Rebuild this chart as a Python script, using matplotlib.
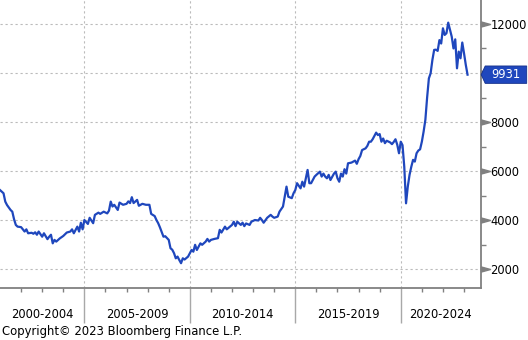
import numpy as np
import pandas as pd
import matplotlib
matplotlib.use("Agg")
import matplotlib.pyplot as plt
from matplotlib.path import Path
from matplotlib.patches import Polygon

# monthly readings (month offset from Jan 2001, value)
months = [0, 2, 3, 4, 6, 7, 8, 9, 10, 12, 14, 15, 16, 18, 19, 20, 21, 22, 24, 25,
          27, 28, 29, 30, 31, 32, 34, 36, 38, 40, 41, 42, 44, 45, 46, 47, 48, 50, 51, 53,
          54, 56, 57, 59, 61, 62, 63, 64, 65, 67, 68, 70, 72, 73, 74, 75, 76, 78, 79, 81,
          83, 85, 86, 88, 89, 90, 91, 93, 94, 96, 97, 98, 99, 100, 101, 102, 103, 104, 105, 107,
          109, 110, 111, 112, 114, 115, 117, 118, 119, 120, 122, 124, 125, 126, 128, 129, 132, 133, 134, 135,
          137, 138, 139, 140, 142, 143, 145, 147, 148, 149, 150, 152, 154, 155, 156, 158, 159, 161, 162, 163,
          164, 166, 167, 168, 169, 171, 172, 173, 175, 176, 177, 179, 180, 182, 183, 184, 185, 186, 187, 188,
          190, 191, 192, 193, 194, 195, 196, 197, 198, 200, 202, 203, 204, 205, 206, 208, 209, 210, 211, 212,
          214, 215, 216, 217, 218, 219, 220, 222, 223, 224, 225, 226, 227, 228, 229, 230, 231, 232, 233, 234,
          235, 236, 237, 238, 239, 240, 241, 242, 243, 244, 245, 246, 247, 248, 249, 250, 251, 252, 253, 254,
          255, 256, 257, 258, 259, 260, 261, 262, 263, 264, 265, 266]
values = [5230, 5100, 4760, 4620, 4420, 4350, 4040, 3810, 3740, 3720, 3540, 3630, 3470, 3490, 3450, 3510, 3410, 3540, 3330, 3470,
          3230, 3330, 3410, 3060, 3200, 3130, 3260, 3360, 3500, 3540, 3630, 3470, 3740, 3540, 3900, 3630, 4010, 3850, 4100, 3880,
          4220, 4310, 4260, 4350, 4280, 4390, 4760, 4560, 4630, 4420, 4720, 4630, 4670, 4770, 4700, 4940, 4700, 4830, 4590, 4670,
          4630, 4630, 4260, 4170, 4010, 3880, 3710, 3330, 3350, 3200, 2860, 2800, 2660, 2450, 2520, 2380, 2250, 2450, 2400, 2520,
          2790, 2720, 3000, 2790, 3060, 3000, 3130, 3240, 3130, 3200, 3240, 3270, 3610, 3500, 3740, 3630, 3810, 3940, 3760, 3940,
          3810, 3900, 3760, 3870, 3810, 3940, 4010, 3990, 4100, 4010, 3900, 4100, 4220, 4150, 4100, 4150, 4350, 4560, 4960, 5370,
          4960, 4900, 5100, 5230, 5510, 5300, 5570, 5370, 6050, 5510, 5510, 5780, 5850, 5980, 5780, 5900, 5780, 5710, 5850, 5640,
          5900, 5980, 5710, 5570, 5900, 5780, 6080, 5900, 6320, 6350, 6430, 6300, 6490, 6620, 6860, 6930, 7030, 7200, 7200, 7300,
          7570, 7470, 7510, 7200, 7330, 7140, 7240, 7170, 7100, 7190, 7300, 7080, 6730, 7200, 7060, 6180, 4690, 5370, 5850, 6180,
          6460, 6390, 6730, 6840, 6890, 7200, 7610, 8090, 9000, 9780, 9990, 10530, 10940, 10950, 10900, 11340, 11200, 11820, 11550, 11620,
          12050, 11760, 11480, 11000, 11370, 10190, 10870, 10600, 11240, 10800, 10330, 9931]

period_labels = ["2000-2004", "2005-2009", "2010-2014", "2015-2019", "2020-2024"]
y_ticks = [2000, 4000, 6000, 8000, 10000, 12000]

dates = pd.Timestamp("2001-01-01") + pd.to_timedelta(np.array(months) * 30.4375, unit="D")

blue = "#1f47bd"
grey = "#808080"

fig = plt.figure(figsize=(5.28, 3.40), dpi=100)
ax = fig.add_axes([0.0, 0.154, 0.9104, 0.846])

ax.plot(dates, values, color=blue, lw=1.6, solid_joinstyle="round")

x_left = pd.Timestamp("2001-01-01")
x_right = pd.Timestamp("2023-10-17")
ax.set_xlim(x_left, x_right)
ax.set_ylim(1255, 12973)

# grid
for yv in y_ticks:
    ax.axhline(yv, color="#bbbbbb", lw=0.8, ls=(0, (2, 2.5)), zorder=0)
bounds = [pd.Timestamp(f"{y}-01-01") for y in (2005, 2010, 2015, 2020)]
for b in bounds:
    ax.axvline(b, color="#bbbbbb", lw=0.8, ls=(0, (2, 2.5)), zorder=0)

# spines
for s in ("top", "left"):
    ax.spines[s].set_visible(False)
for s in ("bottom", "right"):
    ax.spines[s].set_color(grey)
    ax.spines[s].set_linewidth(1.3)

last = values[-1]

# y axis on right (label under the last-value tag is hidden)
ax.yaxis.tick_right()
ax.set_yticks(y_ticks)
ax.set_yticklabels(["" if abs(v - last) < 1000 else str(v) for v in y_ticks])
ax.set_yticks(np.arange(3000, 13000, 2000), minor=True)
ax.tick_params(axis="y", which="major", length=0, pad=7, labelsize=8.3, labelcolor="black")
ax.tick_params(axis="y", which="minor", length=3.5, width=1, color=grey, direction="out")

tri = Path([(0, -0.55), (2, 0), (0, 0.55), (0, -0.55)],
           [Path.MOVETO, Path.LINETO, Path.LINETO, Path.CLOSEPOLY])
ax.plot([1.0] * len(y_ticks), y_ticks, transform=ax.get_yaxis_transform(),
        ls="none", marker=tri, ms=13, color=grey, clip_on=False)

# x axis: year ticks + period separators
ax.set_xticks(bounds)
ax.set_xticklabels([])
ax.set_xticks([pd.Timestamp(f"{y}-01-01") for y in range(2002, 2024)], minor=True)
ax.tick_params(axis="x", which="major", length=25, width=1, color="#a8a8a8", direction="out")
ax.tick_params(axis="x", which="minor", length=3, width=1, color=grey, direction="out")

edges = [x_left] + bounds + [x_right]
for i, lab in enumerate(period_labels):
    mid = edges[i] + (edges[i + 1] - edges[i]) / 2
    ax.text(mid, -0.092, lab, transform=ax.get_xaxis_transform(),
            ha="center", va="center", fontsize=8.3, color="black")

# last value tag
x0, y0 = ax.transAxes.transform((1.0, 0))[0], ax.transData.transform((0, last))[1]
h = 8.7
tag = Polygon([(x0 + 0.5, y0), (x0 + 4.5, y0 + h), (x0 + 46, y0 + h),
               (x0 + 46, y0 - h), (x0 + 4.5, y0 - h)],
              closed=True, transform=None, facecolor=blue, edgecolor="#15308a", lw=0.6)
fig.patches.append(tag)
fig.text((x0 + 25.5) / fig.bbox.width, y0 / fig.bbox.height, f"{last}",
         ha="center", va="center", color="white", fontsize=8.3)

fig.text(0.004, 0.024, "Copyright\u00a9 2023 Bloomberg Finance L.P.",
         ha="left", va="center", fontsize=8.4, color="black")

fig.savefig("out.png", dpi=100)
